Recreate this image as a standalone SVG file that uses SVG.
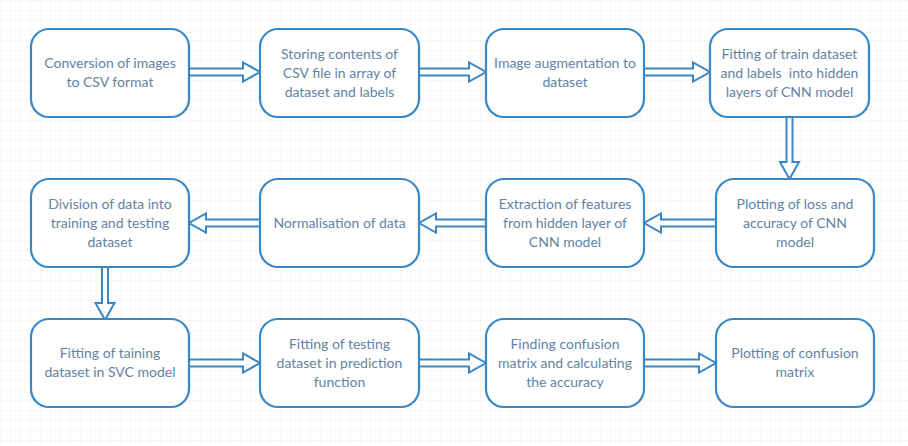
<svg xmlns="http://www.w3.org/2000/svg" width="908" height="446" viewBox="0 0 908 446">
<defs>
<pattern id="grid" width="10" height="10" patternUnits="userSpaceOnUse">
<path d="M10 0H0V10" fill="none" stroke="#efefef" stroke-width="1"/>
</pattern>
<style>
.box{fill:#ffffff;stroke:#3a87c6;stroke-width:2.2}
.arr{fill:#ffffff;stroke:#3a87c6;stroke-width:2;stroke-linejoin:miter}
.lbl{font-family:Lato,"Liberation Sans",sans-serif;font-size:14px;fill:#6383a3;text-anchor:middle}
</style>
</defs>
<rect x="0" y="0" width="908" height="446" fill="#ffffff"/>
<rect x="0" y="0" width="908" height="446" fill="url(#grid)"/>

<g id="connectors">
<path class="arr" d="M189 68.5H243V62.5L260 72L243 81.5V75.5H189Z"/>
<path class="arr" d="M419 68.5H469V62.5L486 72L469 81.5V75.5H419Z"/>
<path class="arr" d="M644 68.5H693V62.5L710 72L693 81.5V75.5H644Z"/>
<path class="arr" d="M786.5 117V162H780L789.5 179L799 162H792.5V117Z"/>
<path class="arr" d="M716 219.5H661V213.5L644 223L661 232.5V226.5H716Z"/>
<path class="arr" d="M486 219.5H436V213.5L419 223L436 232.5V226.5H486Z"/>
<path class="arr" d="M260 219.5H206V213.5L189 223L206 232.5V226.5H260Z"/>
<path class="arr" d="M102 267V303H95.5L105 320L114.5 303H108V267Z"/>
<path class="arr" d="M189 359.5H243V353.5L260 363L243 372.5V366.5H189Z"/>
<path class="arr" d="M419 359.5H469V353.5L486 363L469 372.5V366.5H419Z"/>
<path class="arr" d="M644 359.5H699V353.5L716 363L699 372.5V366.5H644Z"/>
</g>

<g id="n1"><rect class="box" x="31" y="29" width="158" height="88" rx="18"/>
<text class="lbl" x="110" y="68">Conversion of images</text><text class="lbl" x="110" y="87">to CSV format</text></g>
<g id="n2"><rect class="box" x="260" y="29" width="159" height="88" rx="18"/>
<text class="lbl" x="339.5" y="59">Storing contents of</text><text class="lbl" x="339.5" y="78">CSV file in array of</text><text class="lbl" x="339.5" y="97">dataset and labels</text></g>
<g id="n3"><rect class="box" x="486" y="29" width="158" height="88" rx="18"/>
<text class="lbl" x="565" y="68">Image augmentation to</text><text class="lbl" x="565" y="87">dataset</text></g>
<g id="n4"><rect class="box" x="710" y="29" width="159" height="88" rx="18"/>
<text class="lbl" x="789.5" y="59">Fitting of train dataset</text><text class="lbl" x="789.5" y="78" xml:space="preserve">and labels  into hidden</text><text class="lbl" x="789.5" y="97">layers of CNN model</text></g>

<g id="n5"><rect class="box" x="31" y="179" width="158" height="88" rx="18"/>
<text class="lbl" x="110" y="209">Division of data into</text><text class="lbl" x="110" y="228">training and testing</text><text class="lbl" x="110" y="247">dataset</text></g>
<g id="n6"><rect class="box" x="260" y="179" width="159" height="88" rx="18"/>
<text class="lbl" x="339.5" y="227.5">Normalisation of data</text></g>
<g id="n7"><rect class="box" x="486" y="179" width="158" height="88" rx="18"/>
<text class="lbl" x="565" y="209">Extraction of features</text><text class="lbl" x="565" y="228">from hidden layer of</text><text class="lbl" x="565" y="247">CNN model</text></g>
<g id="n8"><rect class="box" x="716" y="179" width="158" height="88" rx="18"/>
<text class="lbl" x="795" y="209">Plotting of loss and</text><text class="lbl" x="795" y="228">accuracy of CNN</text><text class="lbl" x="795" y="247">model</text></g>

<g id="n9"><rect class="box" x="31" y="319" width="158" height="88" rx="18"/>
<text class="lbl" x="110" y="358">Fitting of taining</text><text class="lbl" x="110" y="377">dataset in SVC model</text></g>
<g id="n10"><rect class="box" x="260" y="319" width="159" height="88" rx="18"/>
<text class="lbl" x="339.5" y="349">Fitting of testing</text><text class="lbl" x="339.5" y="368">dataset in prediction</text><text class="lbl" x="339.5" y="387">function</text></g>
<g id="n11"><rect class="box" x="486" y="319" width="158" height="88" rx="18"/>
<text class="lbl" x="565" y="349">Finding confusion</text><text class="lbl" x="565" y="368">matrix and calculating</text><text class="lbl" x="565" y="387">the accuracy</text></g>
<g id="n12"><rect class="box" x="716" y="319" width="158" height="88" rx="18"/>
<text class="lbl" x="795" y="358">Plotting of confusion</text><text class="lbl" x="795" y="377">matrix</text></g>
</svg>
